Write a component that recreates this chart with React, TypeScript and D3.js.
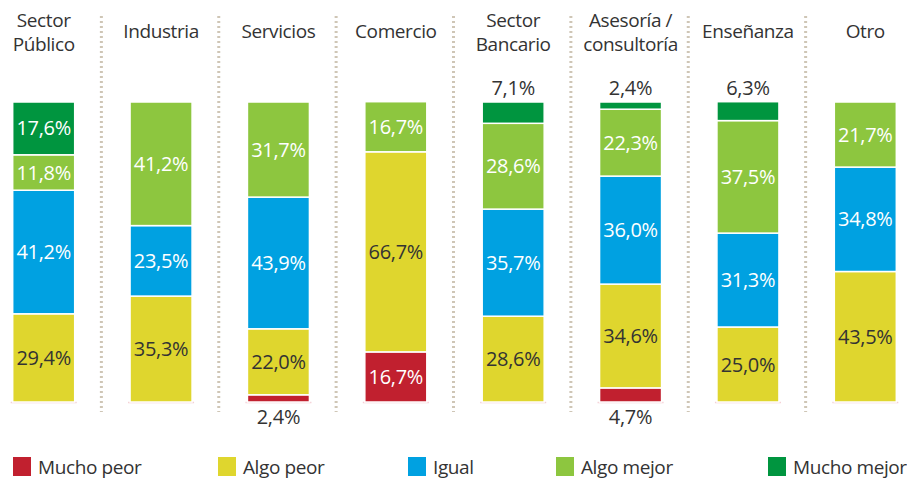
import React from 'react';
import * as d3 from 'd3';

const categories = [
  ['Sector', 'Público'],
  ['Industria'],
  ['Servicios'],
  ['Comercio'],
  ['Sector', 'Bancario'],
  ['Asesoría /', 'consultoría'],
  ['Enseñanza'],
  ['Otro'],
];

const seriesNames = ['Mucho peor', 'Algo peor', 'Igual', 'Algo mejor', 'Mucho mejor'];
const colors = ['#c1202f', '#dfd62e', '#00a1e1', '#8dc63f', '#00953f'];
const textColors = ['#fff', '#333', '#fff', '#fff', '#fff'];

const muchoPeor = [0, 0, 2.4, 16.7, 0, 4.7, 0, 0];
const algoPeor = [29.4, 35.3, 22.0, 66.7, 28.6, 34.6, 25.0, 43.5];
const igual = [41.2, 23.5, 43.9, 0, 35.7, 36.0, 31.3, 34.8];
const algoMejor = [11.8, 41.2, 31.7, 16.7, 28.6, 22.3, 37.5, 21.7];
const muchoMejor = [17.6, 0, 0, 0, 7.1, 2.4, 6.3, 0];

const series = [muchoPeor, algoPeor, igual, algoMejor, muchoMejor];
const legendX = [13, 218, 408, 556, 768];

const W = 907;
const H = 480;
const font = '"Open Sans", "Noto Sans", sans-serif';

const fmt = (v: number) => v.toFixed(1).replace('.', ',') + '%';

export default function App() {
  const keys = categories.map((c) => c.join(' '));
  const x = d3.scaleBand<string>().domain(keys).range([-15, 924]).padding(0);
  const y = d3.scaleLinear().domain([0, 100]).range([402, 102]);
  const barW = 62;

  const rows = keys.map((k, i) => {
    const r: any = { key: k };
    seriesNames.forEach((s, j) => (r[s] = series[j][i]));
    return r;
  });
  const stacked = d3.stack<any>().keys(seriesNames)(rows);

  return (
    <svg width={W} height={H} style={{ position: 'absolute', left: 0, top: 0, background: '#fff' }}>
      {/* dotted separators */}
      {keys.slice(1).map((k) => (
        <line
          key={'sep' + k}
          x1={x(k)! - 1}
          x2={x(k)! - 1}
          y1={16}
          y2={412}
          stroke="#cfc6b6"
          strokeWidth={3}
          strokeDasharray="2 3"
        />
      ))}
      {/* headers */}
      {categories.map((c, i) => {
        const cx = x(keys[i])! + x.bandwidth() / 2;
        const base = c.length === 1 ? 38 : 27;
        return (
          <text
            key={'h' + i}
            x={cx}
            y={base}
            textAnchor="middle"
            fontFamily={font}
            fontSize={19}
            letterSpacing={-0.4}
            fill="#333"
          >
            {c.map((l, j) => (
              <tspan key={j} x={cx} y={base + j * 24}>
                {l}
              </tspan>
            ))}
          </text>
        );
      })}
      {/* baselines */}
      {keys.map((k) => (
        <line
          key={'b' + k}
          x1={x(k)! + x.bandwidth() / 2 - barW / 2 - 2}
          x2={x(k)! + x.bandwidth() / 2 + barW / 2 + 2}
          y1={y(0) + 0.5}
          y2={y(0) + 0.5}
          stroke="#f4cfd4"
          strokeWidth={1.5}
        />
      ))}
      {/* bars */}
      {stacked.map((layer, j) =>
        layer.map((d, i) => {
          const v = d[1] - d[0];
          if (v <= 0) return null;
          const cx = x(keys[i])! + x.bandwidth() / 2;
          const y0 = y(d[0]);
          const y1 = y(d[1]);
          let ly = (y0 + y1) / 2 + 7;
          let fill = textColors[j];
          if (v < 8) {
            fill = '#333';
            ly = j === 0 ? y0 + 22 : y1 - 7;
          }
          return (
            <g key={j + '-' + i}>
              <rect
                x={cx - barW / 2}
                y={y1}
                width={barW}
                height={y0 - y1}
                fill={colors[j]}
                stroke="#fff"
                strokeWidth={1.5}
              />
              <text
                x={cx}
                y={ly}
                textAnchor="middle"
                fontFamily={font}
                fontSize={20}
                letterSpacing={-0.3}
                fill={fill}
              >
                {fmt(v)}
              </text>
            </g>
          );
        })
      )}
      {/* legend */}
      {seriesNames.map((s, j) => (
        <g key={'l' + s} transform={`translate(${legendX[j]},457)`}>
          <rect width={18} height={19} fill={colors[j]} />
          <text x={25} y={17} fontFamily={font} fontSize={19} letterSpacing={-0.4} fill="#333">
            {s}
          </text>
        </g>
      ))}
    </svg>
  );
}
